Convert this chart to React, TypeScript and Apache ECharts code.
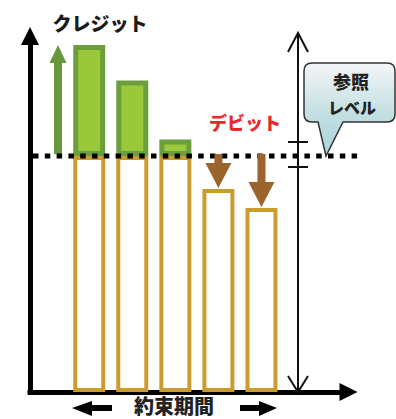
import React, { useEffect, useRef } from "react";
import * as echarts from "echarts";

// ---- data ----
const CATEGORIES = ["1", "2", "3", "4", "5"];
const BALANCE = [147, 132, 107, 86, 78];
const REFERENCE_LEVEL = 100;
const Y_MAX = 160;

const LABEL_CREDIT = "クレジット";
const LABEL_DEBIT = "デビット";
const LABEL_REF = ["参照", "レベル"];
const LABEL_TERM = "約束期間";

const BALLOON_D =
  "M312 63 H387 Q395 63 395 71 V114 Q395 122 387 122 H343 L326 156 L318 122 H312 Q304 122 304 114 V71 Q304 63 312 63 Z";
echarts.graphic.registerShape("balloon", echarts.graphic.extendPath(BALLOON_D, {}));

const FONT = '"Noto Sans CJK JP", "Noto Sans", sans-serif';

export default function App() {
  const ref = useRef<HTMLDivElement>(null);
  useEffect(() => {
    const chart = echarts.init(ref.current!, null, { renderer: "svg" });
    const lower = BALANCE.map((v) => Math.min(v, REFERENCE_LEVEL));
    const upper = BALANCE.map((v) => (v > REFERENCE_LEVEL ? v - REFERENCE_LEVEL : "-"));
    const axisCommon = {
      min: 0,
      max: 1,
      axisLine: {
        show: true,
        onZero: true,
        symbol: ["none", "triangle"],
        symbolSize: [18, 18],
        lineStyle: { color: "#000", width: 5, cap: "square" },
      },
      axisTick: { show: false },
      axisLabel: { show: false },
      splitLine: { show: false },
    };
    chart.setOption({
      animation: false,
      grid: [
        { left: 67.7, right: 113, top: 14.4, bottom: 27 },
        { left: 30, right: 47.5, top: 36, bottom: 27 },
      ],
      xAxis: [
        { type: "category", data: CATEGORIES, gridIndex: 0, show: false },
        { type: "value", gridIndex: 1, ...axisCommon },
      ],
      yAxis: [
        { type: "value", gridIndex: 0, min: 0, max: Y_MAX, show: false },
        { type: "value", gridIndex: 1, ...axisCommon },
      ],
      series: [
        {
          type: "bar",
          name: "base",
          stack: "bal",
          xAxisIndex: 0,
          yAxisIndex: 0,
          barWidth: 32,
          data: lower,
          itemStyle: { color: "#ffffff", borderColor: "#CC9B2F", borderWidth: 4 },
        },
        {
          type: "bar",
          name: "credit",
          stack: "bal",
          xAxisIndex: 0,
          yAxisIndex: 0,
          barWidth: 32,
          data: upper,
          itemStyle: { color: "#9BC83A", borderColor: "#6B9E3C", borderWidth: 5 },
        },
      ],
    });

    const yRef = chart.convertToPixel({ yAxisIndex: 0 }, REFERENCE_LEVEL) as number;
    const xs = CATEGORIES.map((c) => chart.convertToPixel({ xAxisIndex: 0 }, c) as number);
    const tops = BALANCE.map((v) => chart.convertToPixel({ yAxisIndex: 0 }, v) as number);

    const graphics: any[] = [];
    // dotted reference line
    graphics.push({
      type: "line",
      z: 20,
      shape: { x1: 33, y1: yRef, x2: 358, y2: yRef },
      style: { stroke: "#000", lineWidth: 5, lineDash: [5.5, 6.3] },
    });
    // green up arrow (credit)
    const gx = 58;
    const gTip = 45;
    const gHead = 63;
    graphics.push({
      type: "polygon",
      z: 15,
      shape: {
        points: [
          [gx - 4, yRef - 2],
          [gx - 4, gHead],
          [gx - 8.5, gHead],
          [gx, gTip],
          [gx + 8.5, gHead],
          [gx + 4, gHead],
          [gx + 4, yRef - 2],
        ],
      },
      style: { fill: "#67983C" },
    });
    // brown down arrows (debit)
    BALANCE.forEach((v, i) => {
      if (v >= REFERENCE_LEVEL) return;
      const cx = xs[i];
      const tip = tops[i] - 1;
      const head = tip - 25;
      graphics.push({
        type: "polygon",
        z: 25,
        shape: {
          points: [
            [cx - 4, yRef - 2],
            [cx - 4, head],
            [cx - 13, head],
            [cx, tip],
            [cx + 13, head],
            [cx + 4, head],
            [cx + 4, yRef - 2],
          ],
        },
        style: { fill: "#9A642C" },
      });
    });
    // right double arrow
    const rx = 298;
    const thin = { stroke: "#111", lineWidth: 2 };
    graphics.push(
      { type: "line", z: 22, shape: { x1: rx, y1: 33, x2: rx, y2: 392 }, style: thin },
      { type: "polyline", z: 22, shape: { points: [[288, 52], [rx, 33], [308, 52]] }, style: { ...thin, fill: null } },
      { type: "polyline", z: 22, shape: { points: [[288, 376], [rx, 392], [308, 376]] }, style: { ...thin, fill: null } },
      { type: "line", z: 22, shape: { x1: 288, y1: yRef - 14, x2: 308, y2: yRef - 14 }, style: thin },
      { type: "line", z: 22, shape: { x1: 288, y1: yRef + 11, x2: 308, y2: yRef + 11 }, style: thin }
    );
    // balloon
    graphics.push({
      type: "balloon",
      z: 30,
      style: {
        fill: new echarts.graphic.LinearGradient(0, 0, 0, 1, [
          { offset: 0, color: "#F4F6F6" },
          { offset: 0.6, color: "#BFDDE1" },
          { offset: 1, color: "#A6D4DA" },
        ]),
        stroke: "#333",
        lineWidth: 1.5,
      },
    });
    const txt = (text: string, x: number, y: number, size: number, color: string) => ({
      type: "text",
      z: 40,
      style: {
        text,
        x,
        y,
        align: "center",
        verticalAlign: "middle",
        textAlign: "center",
        textVerticalAlign: "middle",
        fill: color,
        font: `900 ${size}px ${FONT}`,
      },
    });
    graphics.push(
      txt(LABEL_CREDIT, 100, 22, 19, "#1a1a1a"),
      txt(LABEL_DEBIT, 245, 122, 18, "#E8262B"),
      txt(LABEL_REF[0], 351, 81, 18, "#222"),
      txt(LABEL_REF[1], 352, 107, 16, "#222"),
      txt(LABEL_TERM, 174, 405, 20, "#222")
    );
    // bottom arrows
    graphics.push(
      {
        type: "polygon",
        z: 20,
        shape: { points: [[72, 408], [92, 401], [92, 405], [112, 405], [112, 411], [92, 411], [92, 416]] },
        style: { fill: "#000" },
      },
      {
        type: "polygon",
        z: 20,
        shape: { points: [[277, 408], [259, 401], [259, 405], [240, 405], [240, 411], [259, 411], [259, 416]] },
        style: { fill: "#000" },
      }
    );
    chart.setOption({ graphic: graphics });
    return () => chart.dispose();
  }, []);
  return (
    <div
      ref={ref}
      style={{ position: "fixed", left: 0, top: 0, width: 396, height: 419, background: "#fff" }}
    />
  );
}
